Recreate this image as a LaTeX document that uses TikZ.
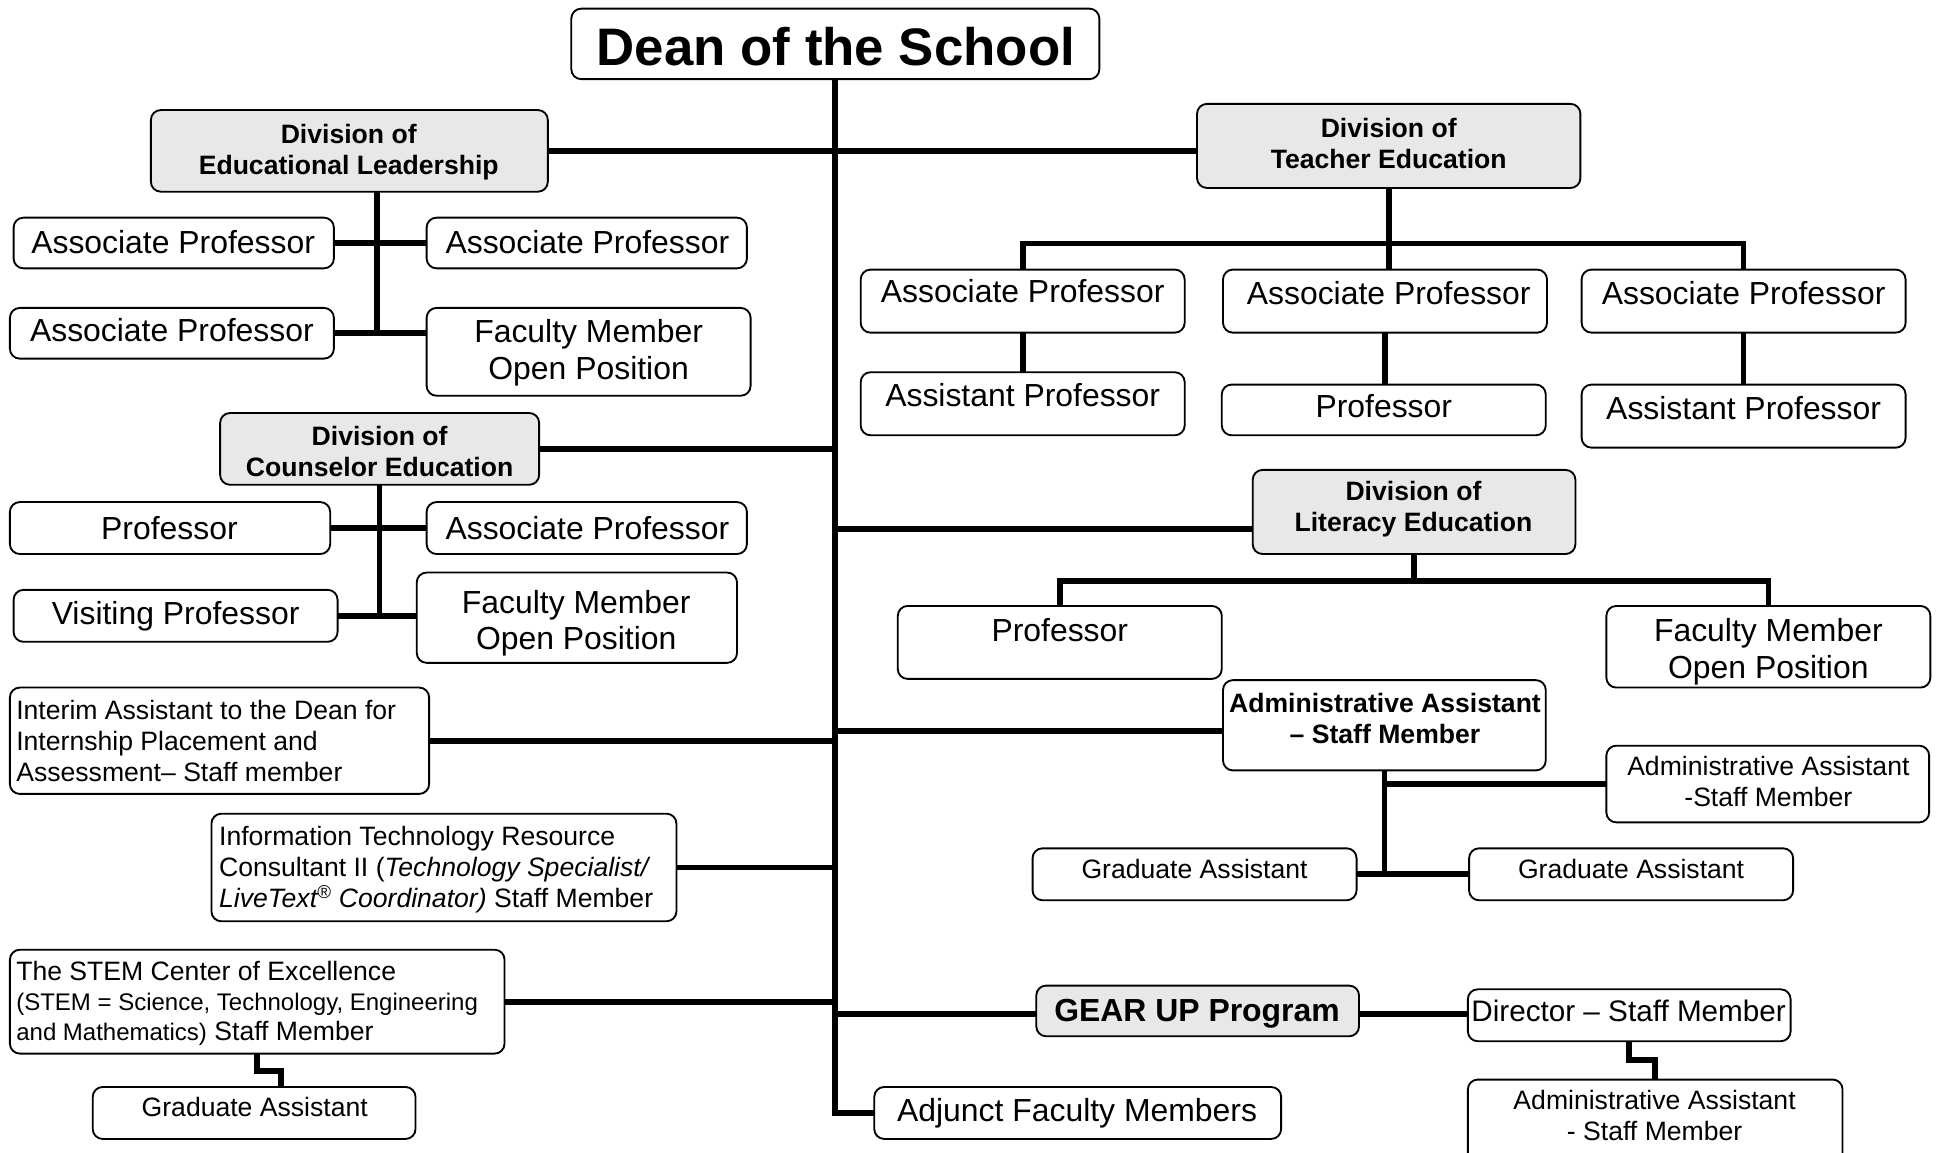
\documentclass[tikz,border=0pt]{standalone}
\usepackage{fontspec}
\setmainfont{Liberation Sans}
\usetikzlibrary{calc}
\definecolor{divgray}{HTML}{E8E8E8}
\newcommand\fbig{\fontsize{25.8}{29.5}\selectfont}
\newcommand\fsm{\fontsize{21.5}{25}\selectfont}
\newcommand\fstem{\fontsize{19.4}{24}\selectfont}
\newcommand\fdir{\fontsize{24}{28}\selectfont}
\newcommand\fdean{\fontsize{42.7}{48}\selectfont\bfseries}
% box: name, x1, y1, x2, y2
\newcommand\obox[6][box]{\node[#1, minimum width={#5-#3}, minimum height={#6-#4}] (#2) at ({(#3+#5)/2},{(#4+#6)/2}) {};}
\tikzset{
  x=1pt, y=-1pt,
  box/.style={draw=black, line width=1.5pt, rounded corners=8pt, fill=white, inner sep=0pt, outer sep=0pt},
  divbox/.style={box, fill=divgray},
  txt/.style={inner sep=0pt, anchor=base, align=center},
  ltxt/.style={inner sep=0pt, anchor=base west, align=left},
  conn/.style={line width=4.6pt, line join=miter, draw=black}
}
\begin{document}
\begin{tikzpicture}
\fill[white] (0,0) rectangle (1568,932);
\useasboundingbox (0,0) rectangle (1568,932);

% ---------- boxes ----------
\obox{dean}{462}{7}{889}{64}
\obox[divbox]{el}{122}{89}{443}{155}
\obox[divbox]{te}{968}{84}{1278}{152}
\obox{elap1}{11}{176}{270}{217}
\obox{elap2}{345}{176}{604}{217}
\obox{elap3}{8}{249}{270}{290}
\obox{elfm}{345}{249}{607}{320}
\obox[divbox]{ce}{178}{334}{436}{392}
\obox{ceprof}{8}{406}{267}{448}
\obox{ceap}{345}{406}{604}{448}
\obox{cevis}{11}{477}{273}{519}
\obox{cefm}{337}{463}{596}{536}
\obox{interim}{8}{556}{347}{642}
\obox{it}{171}{658}{547}{745}
\obox{stem}{8}{768}{408}{852}
\obox{stemga}{75}{879}{336}{921}
\obox{adj}{707}{879}{1036}{921}
\obox{teap1}{696}{218}{958}{269}
\obox{teap2}{989}{218}{1251}{269}
\obox{teap3}{1279}{218}{1541}{269}
\obox{teasst1}{696}{301}{958}{352}
\obox{teprof}{988}{311}{1250}{352}
\obox{teasst3}{1279}{311}{1541}{362}
\obox[divbox]{le}{1013}{380}{1274}{448}
\obox{leprof}{726}{490}{988}{549}
\obox{lefm}{1299}{490}{1561}{556}
\obox{aa}{989}{550}{1250}{623}
\obox{aar}{1299}{603}{1560}{665}
\obox{gal}{835}{686}{1097}{728}
\obox{gar}{1188}{686}{1450}{728}
\obox[divbox]{gear}{838}{797}{1099}{838}
\obox{dir}{1187}{800}{1448}{842}
\obox{aab}{1187}{873}{1490}{945}

% ---------- texts (base anchor = baseline of last line) ----------
\node[txt, font=\fdean] (dean-t) at (676,53) {Dean of the School};
\node[txt, font=\fsm\bfseries] (el-t) at (282,141) {Division of\\Educational Leadership};
\node[txt, font=\fsm\bfseries] (te-t) at (1123,136) {Division of\\Teacher Education};
\node[txt, font=\fbig] (elap1-t) at (140,205) {Associate Professor};
\node[txt, font=\fbig] (elap2-t) at (475,205) {Associate Professor};
\node[txt, font=\fbig] (elap3-t) at (139,276) {Associate Professor};
\node[txt, font=\fbig] (elfm-t) at (476,306.5) {Faculty Member\\Open Position};
\node[txt, font=\fsm\bfseries] (ce-t) at (307,385) {Division of\\Counselor Education};
\node[txt, font=\fbig] (ceprof-t) at (137,436) {Professor};
\node[txt, font=\fbig] (ceap-t) at (475,436) {Associate Professor};
\node[txt, font=\fbig] (cevis-t) at (142,505) {Visiting Professor};
\node[txt, font=\fbig] (cefm-t) at (466,525.5) {Faculty Member\\Open Position};
\node[ltxt, font=\fsm] (interim-t) at (13,632) {Interim Assistant to the Dean for\\Internship Placement and\\Assessment-- Staff member};
\node[ltxt, font=\fsm] (it-t) at (177,734) {Information Technology Resource\\Consultant II (\textit{Technology Specialist/}\\\textit{LiveText\textsuperscript{®} Coordinator)} Staff Member};
\node[ltxt, font=\fontsize{21.5}{24}\selectfont] (stem-t) at (13,841) {The STEM Center of Excellence\\{\fstem (STEM = Science, Technology, Engineering}\\{\fstem and Mathematics)} Staff Member};
\node[txt, font=\fsm] (stemga-t) at (206,903) {Graduate Assistant};
\node[txt, font=\fbig] (adj-t) at (871,907) {Adjunct Faculty Members};
\node[txt, font=\fbig] (teap1-t) at (827,245) {Associate Professor};
\node[txt, font=\fbig] (teap2-t) at (1123,246) {Associate Professor};
\node[txt, font=\fbig] (teap3-t) at (1410,246) {Associate Professor};
\node[txt, font=\fbig] (teasst1-t) at (827,329) {Assistant Professor};
\node[txt, font=\fbig] (teprof-t) at (1119,338) {Professor};
\node[txt, font=\fbig] (teasst3-t) at (1410,339) {Assistant Professor};
\node[txt, font=\fsm\bfseries] (le-t) at (1143,430) {Division of\\Literacy Education};
\node[txt, font=\fbig] (leprof-t) at (857,519) {Professor};
\node[txt, font=\fbig] (lefm-t) at (1430,548.5) {Faculty Member\\Open Position};
\node[txt, font=\fsm\bfseries] (aa-t) at (1120,601) {Administrative Assistant\\-- Staff Member};
\node[txt, font=\fsm] (aar-t) at (1430,652) {Administrative Assistant\\-Staff Member};
\node[txt, font=\fsm] (gal-t) at (966,710) {Graduate Assistant};
\node[txt, font=\fsm] (gar-t) at (1319,710) {Graduate Assistant};
\node[txt, font=\fbig\bfseries] (gear-t) at (968,826) {GEAR UP Program};
\node[txt, font=\fdir] (dir-t) at (1317,826) {Director -- Staff Member};
\node[txt, font=\fsm] (aab-t) at (1338,922) {Administrative Assistant\\- Staff Member};

% ---------- connectors ----------
\coordinate (trk) at (dean.south);
\draw[conn] (dean.south) |- (adj.west);
\draw[conn] (el.east) -- (el.east -| te.west);
\draw[conn] (ce.east) -- (ce.east -| trk);
\coordinate (leJ) at (676,428);
\draw[conn] (leJ) -- (leJ -| le.west);
\draw[conn] (interim.east) -- (interim.east -| trk);
\coordinate (aaJ) at (676,591);
\draw[conn] (aaJ) -- (aaJ -| aa.west);
\draw[conn] (it.east) -- (it.east -| trk);
\draw[conn] (stem.east) -- (stem.east -| trk);
\coordinate (gJ) at (676,820);
\draw[conn] (gJ) -- (gJ -| gear.west);
\draw[conn] (gear.east |- gJ) -- (gJ -| dir.west);

% Educational Leadership
\coordinate (elv) at (305,155);
\draw[conn] (elv) -- (elv |- elap3.east);
\draw[conn] (elap1.east) -- (elap2.west);
\draw[conn] (elap3.east) -- (elap3.east -| elfm.west);

% Counselor Education
\draw[conn] (ce.south) -- (ce.south |- cevis.east);
\draw[conn] (ceprof.east) -- (ceap.west);
\draw[conn] (cevis.east) -- (cevis.east -| cefm.west);

% Teacher Education
\coordinate (teH) at (1123,197);
\draw[conn] (te.south) -- (te.south |- teap2.north);
\draw[conn] (teap1.north) -- (teap1.north |- teH) -- (teap3.north |- teH) -- (teap3.north);
\draw[conn] (teap1.south) -- (teasst1.north);
\draw[conn] (teap2.south) -- (teap2.south |- teprof.north);
\draw[conn] (teap3.south) -- (teasst3.north);

% Literacy Education
\coordinate (leH) at (1143,470);
\draw[conn] (le.south) -- (le.south |- leH);
\draw[conn] (leprof.north) -- (leprof.north |- leH) -- (lefm.north |- leH) -- (lefm.north);

% Administrative assistant group
\draw[conn] (aa.south) -- (aa.south |- gal.east);
\draw[conn] (aa.south |- aar.west) -- (aar.west);
\draw[conn] (gal.east) -- (gar.west);

% STEM -> GA, Director -> AA
\draw[conn] (stem.south) -- ++(0,14) -| ([xshift=22pt]stemga.north);
\draw[conn] (dir.south) -- ++(0,15) -| (aab.north);
\end{tikzpicture}
\end{document}
